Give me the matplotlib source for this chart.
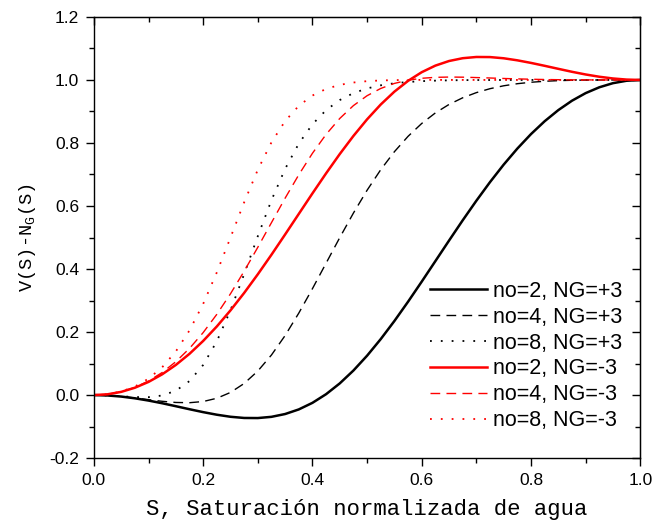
import matplotlib
matplotlib.use('Agg')
import matplotlib.pyplot as plt
from matplotlib.ticker import MultipleLocator, FormatStrFormatter

# S, water saturation (normalised), read every 0.025
S = [0.0, 0.025, 0.05, 0.075, 0.1, 0.125, 0.15, 0.175, 0.2, 0.225, 0.25, 0.275,
     0.3, 0.325, 0.35, 0.375, 0.4, 0.425, 0.45, 0.475, 0.5, 0.525, 0.55, 0.575,
     0.6, 0.625, 0.65, 0.675, 0.7, 0.725, 0.75, 0.775, 0.8, 0.825, 0.85, 0.875,
     0.9, 0.925, 0.95, 0.975, 1.0]

# NG = +3
no2_pos = [0.0, -0.0012, -0.0047, -0.0102, -0.0174, -0.0259, -0.0353, -0.0449, -0.0541,
           -0.0623, -0.0688, -0.0726, -0.0729, -0.0690, -0.0601, -0.0455, -0.0246, 0.0029,
           0.0371, 0.0779, 0.125, 0.1777, 0.2351, 0.2963, 0.36, 0.4251, 0.4903, 0.5546,
           0.6167, 0.6759, 0.7313, 0.7822, 0.8282, 0.8690, 0.9043, 0.9341, 0.9582, 0.9767,
           0.9898, 0.9975, 1.0]
no4_pos = [0.0, -0.0012, -0.0044, -0.0091, -0.0145, -0.0197, -0.0234, -0.0242, -0.0204,
           -0.0101, 0.0084, 0.0368, 0.0763, 0.1272, 0.1890, 0.2601, 0.3377, 0.4187,
           0.4997, 0.5776, 0.65, 0.7152, 0.7723, 0.8211, 0.8619, 0.8954, 0.9223, 0.9434,
           0.9598, 0.9723, 0.9815, 0.9881, 0.9927, 0.9958, 0.9978, 0.9990, 0.9996, 0.9999,
           1.0, 1.0, 1.0]
no8_pos = [0.0, -0.0011, -0.0037, -0.0063, -0.0066, -0.0013, 0.0139, 0.0445, 0.0956,
           0.1707, 0.2690, 0.3837, 0.5041, 0.6184, 0.7178, 0.7980, 0.8594, 0.9043,
           0.9362, 0.9582, 0.9731, 0.9830, 0.9895, 0.9936, 0.9962, 0.9978, 0.9988, 0.9994,
           0.9997, 0.9998, 0.9999, 1.0, 1.0, 1.0, 1.0, 1.0, 1.0, 1.0, 1.0, 1.0, 1.0]
# NG = -3
no2_neg = [0.0, 0.0025, 0.0102, 0.0233, 0.0418, 0.0659, 0.0957, 0.1310, 0.1718,
           0.2178, 0.2688, 0.3241, 0.3833, 0.4454, 0.5097, 0.5749, 0.64, 0.7037,
           0.7649, 0.8223, 0.875, 0.9221, 0.9629, 0.9971, 1.0246, 1.0455, 1.0601, 1.0690,
           1.0729, 1.0726, 1.0688, 1.0623, 1.0541, 1.0449, 1.0353, 1.0259, 1.0174, 1.0102,
           1.0047, 1.0012, 1.0]
no4_neg = [0.0, 0.0026, 0.0105, 0.0244, 0.0446, 0.0716, 0.1060, 0.1482, 0.1983,
           0.2563, 0.3215, 0.3930, 0.4690, 0.5472, 0.6249, 0.6991, 0.7673, 0.8273,
           0.8778, 0.9186, 0.95, 0.9730, 0.9890, 0.9993, 1.0053, 1.0083, 1.0092, 1.0088,
           1.0076, 1.0062, 1.0047, 1.0034, 1.0023, 1.0014, 1.0008, 1.0004, 1.0002, 1.0001,
           1.0, 1.0, 1.0]
no8_neg = [0.0, 0.0026, 0.0112, 0.0271, 0.0520, 0.0883, 0.1386, 0.2053, 0.2894,
           0.3894, 0.4998, 0.6116, 0.7150, 0.8021, 0.8695, 0.9179, 0.9506, 0.9716,
           0.9844, 0.9919, 0.9962, 0.9984, 0.9995, 1.0, 1.0002, 1.0002, 1.0001, 1.0001,
           1.0001, 1.0, 1.0, 1.0, 1.0, 1.0, 1.0, 1.0, 1.0, 1.0, 1.0, 1.0, 1.0]

DASH = (0, (7, 4.5))
DOT = (0, (1, 5))
series = [
    (no2_pos, 'black', '-',  1.8, 'no=2, NG=+3'),
    (no4_pos, 'black', DASH, 1.0, 'no=4, NG=+3'),
    (no8_pos, 'black', DOT,  1.3, 'no=8, NG=+3'),
    (no2_neg, 'red',   '-',  1.8, 'no=2, NG=-3'),
    (no4_neg, 'red',   DASH, 1.0, 'no=4, NG=-3'),
    (no8_neg, 'red',   DOT,  1.3, 'no=8, NG=-3'),
]

fig = plt.figure(figsize=(6.52, 5.29), dpi=100)
ax = fig.add_axes([0.144, 0.134, 0.838, 0.834])

for y, col, ls, lw, lab in series:
    ax.plot(S, y, color=col, linestyle=ls, linewidth=lw, label=lab)

ax.set_xlim(0, 1)
ax.set_ylim(-0.2, 1.2)
ax.xaxis.set_major_locator(MultipleLocator(0.2))
ax.xaxis.set_minor_locator(MultipleLocator(0.1))
ax.yaxis.set_major_locator(MultipleLocator(0.2))
ax.yaxis.set_minor_locator(MultipleLocator(0.1))
ax.xaxis.set_major_formatter(FormatStrFormatter('%.1f'))
ax.yaxis.set_major_formatter(FormatStrFormatter('%.1f'))

ax.tick_params(which='both', direction='out', top=False, right=False, width=1.0)
ax.tick_params(which='major', length=6, labelsize=12.5, pad=4.5)
ax.tick_params(which='minor', length=3.5)
for lab in ax.get_xticklabels() + ax.get_yticklabels():
    lab.set_family('Liberation Sans')

# mirror ticks on top/right pointing inward
ax_top = ax.secondary_xaxis('top')
ax_top.xaxis.set_major_locator(MultipleLocator(0.2))
ax_top.xaxis.set_minor_locator(MultipleLocator(0.1))
ax_top.tick_params(which='both', direction='in', labeltop=False, width=1.0)
ax_top.tick_params(which='major', length=6)
ax_top.tick_params(which='minor', length=3.5)
ax_right = ax.secondary_yaxis('right')
ax_right.yaxis.set_major_locator(MultipleLocator(0.2))
ax_right.yaxis.set_minor_locator(MultipleLocator(0.1))
ax_right.tick_params(which='both', direction='in', labelright=False, width=1.0)
ax_right.tick_params(which='major', length=6)
ax_right.tick_params(which='minor', length=3.5)

for sp in ax.spines.values():
    sp.set_linewidth(1.0)

ax.set_xlabel('S, Saturación normalizada de agua', family='Liberation Mono',
              fontsize=16, labelpad=8)
ax.set_ylabel(r'V(S)-N$_{\mathregular{G}}$(S)', family='Liberation Mono',
              fontsize=13.5)
ax.yaxis.set_label_coords(-0.102, 0.5)

ax.legend(loc='lower right', bbox_to_anchor=(0.995, 0.027), frameon=False,
          prop={'family': 'Liberation Sans', 'size': 15.5},
          handlelength=2.65, handletextpad=0.28, labelspacing=0.225,
          borderaxespad=0.3)

fig.savefig('out.png', dpi=100)
